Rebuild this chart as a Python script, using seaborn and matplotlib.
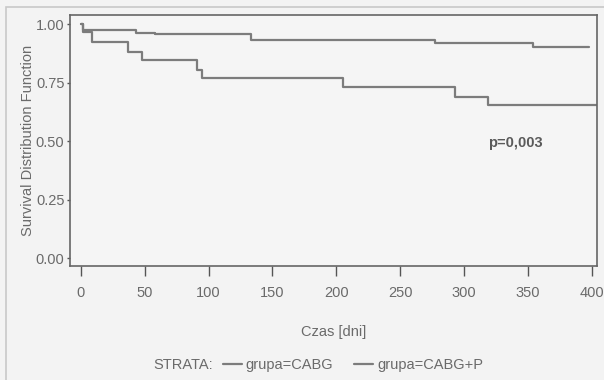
import pandas as pd
import seaborn as sns
import matplotlib.pyplot as plt
from matplotlib.lines import Line2D
from matplotlib.patches import Rectangle

# === Dane (Kaplan-Meier, schodki) ===
czas_cabg = [0, 2, 43, 58, 133, 277, 354, 398]
surv_cabg = [1.000, 0.974, 0.963, 0.957, 0.934, 0.922, 0.904, 0.904]

czas_cabg_p = [0, 1.5, 9, 37, 48, 91, 95, 205, 293, 319, 410]
surv_cabg_p = [1.000, 0.966, 0.923, 0.880, 0.846, 0.805, 0.769, 0.731, 0.688, 0.654, 0.654]

grupy = ["grupa=CABG", "grupa=CABG+P"]
x_ticks = [0, 50, 100, 150, 200, 250, 300, 350, 400]
y_ticks = [0.00, 0.25, 0.50, 0.75, 1.00]

df = pd.concat([
    pd.DataFrame({"czas": czas_cabg, "surv": surv_cabg, "grupa": grupy[0]}),
    pd.DataFrame({"czas": czas_cabg_p, "surv": surv_cabg_p, "grupa": grupy[1]}),
])

sns.set_style("white")
plt.rcParams["font.family"] = ["Liberation Sans", "DejaVu Sans"]
TXT = "#6a6a6a"
LINE = "#7c7c7c"
FS = 10.5

fig = plt.figure(figsize=(6.04, 3.8), dpi=100)
fig.patch.set_facecolor("#f3f3f3")
fig.add_artist(Rectangle((6 / 604, -0.01), 1.0, 1 - 7 / 380 + 0.01, transform=fig.transFigure,
                         facecolor="none", edgecolor="#c8c8c8", lw=1.2))
ax = fig.add_axes([70 / 604, 1 - 266 / 380, 527 / 604, 251 / 380])
ax.set_facecolor("#f5f5f5")

sns.lineplot(data=df, x="czas", y="surv", hue="grupa", palette=[LINE, LINE],
             estimator=None, drawstyle="steps-post", lw=1.6, legend=False, ax=ax)

ax.set_xlim(-8.5, 404)
ax.set_ylim(-0.034, 1.04)
ax.set_xticks(x_ticks)
ax.set_yticks(y_ticks)
ax.set_yticklabels([f"{v:.2f}" for v in y_ticks])
ax.tick_params(axis="both", direction="out", width=1, colors="#555555",
               labelcolor=TXT, labelsize=FS)
ax.tick_params(axis="x", length=7, pad=7.5)
ax.tick_params(axis="y", length=2.5, pad=1.5)
ax.tick_params(left=True, bottom=True)
for s in ax.spines.values():
    s.set_color("#666666")
    s.set_linewidth(1.2)

ax.set_xlabel("Czas [dni]", fontsize=FS, color=TXT, labelpad=18)
ax.set_ylabel("Survival Distribution Function", fontsize=FS, color=TXT)
ax.yaxis.set_label_coords(-0.066, 0.5)
ax.text(319, 0.491, "p=0,003", fontsize=FS, color="#5a5a5a", fontweight="bold",
        ha="left", va="center")

# Legenda pod wykresem
fig.text(153 / 604, 1 - 365 / 380, "STRATA:", fontsize=FS, color=TXT, va="center")
handles = [Line2D([], [], color=LINE, lw=1.6) for _ in grupy]
fig.legend(handles, grupy, loc="center left", bbox_to_anchor=(223 / 604, 1 - 365 / 380), ncol=2,
           frameon=False, fontsize=FS, labelcolor=TXT, handlelength=1.3, handletextpad=0.25,
           columnspacing=1.45, borderpad=0, borderaxespad=0)

plt.savefig("out.png", dpi=100, facecolor=fig.get_facecolor())
